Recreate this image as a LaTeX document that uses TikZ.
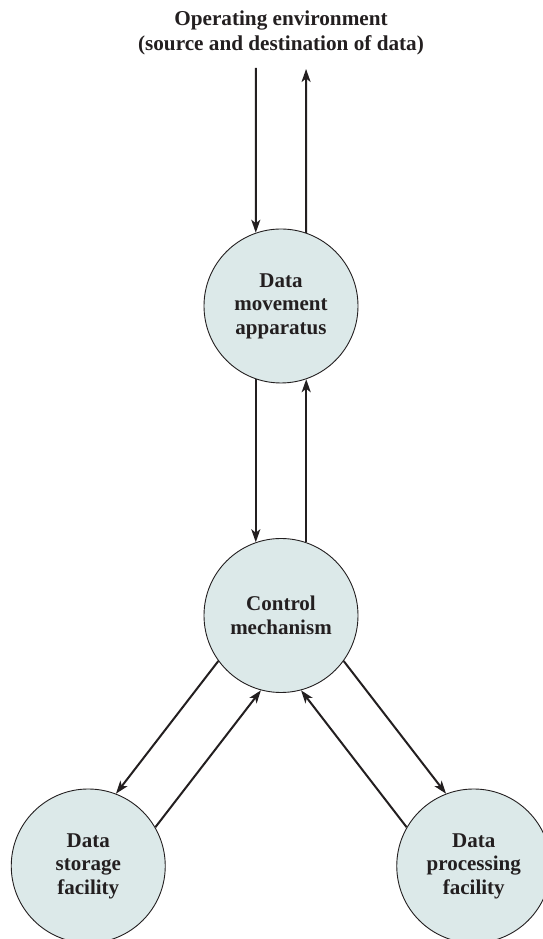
\documentclass[tikz,border=0pt]{standalone}
\usepackage{fontspec}
\setmainfont{Liberation Serif}
\usepackage{tikz}
\usetikzlibrary{arrows.meta}

\definecolor{circfill}{RGB}{220,233,233}
\definecolor{inkcol}{RGB}{35,31,32}

\begin{document}
\begin{tikzpicture}[x=1pt, y=1pt, line width=1pt,
    unit/.style={circle, draw=inkcol, fill=circfill, line width=0.9pt,
                 minimum size=154pt, inner sep=0pt, align=center,
                 text=inkcol, font=\fontsize{21}{23.5}\selectfont\bfseries},
    flow/.style={draw=inkcol, line width=2pt,
                 -{Stealth[length=13pt, width=9pt, inset=3.5pt]}}]
    \useasboundingbox (0,0) rectangle (543,939);
    \clip (0,0) rectangle (543,939);

    % title
    \node[anchor=north, inner sep=0pt, align=center, text=inkcol,
          font=\fontsize{21.2}{24.5}\selectfont\bfseries] (env) at (281,928.5)
        {Operating environment\\(source and destination of data)};

    % the four functions
    \node[unit] (move) at (281,633) {Data\\movement\\apparatus};
    \node[unit] (ctrl) at (281,323.5) {Control\\mechanism};
    \node[unit] (stor) at (88.25,73) {Data\\storage\\facility};
    \node[unit] (proc) at (473.75,73) {Data\\processing\\facility};

    % free ends towards the environment
    \coordinate (envin) at (255.93,871);
    \coordinate (envout) at (306.07,870);

    % environment <-> movement
    \draw[flow] (envin) -- (move.109);
    \draw[flow] (move.71) -- (envout);

    % movement <-> control
    \draw[flow] (move.251) -- (ctrl.109);
    \draw[flow] (ctrl.71) -- (move.289);

    % control <-> storage and processing
    \draw[flow] (ctrl.216) -- (stor.69);
    \draw[flow] (stor.30) -- (ctrl.255);
    \draw[flow] (ctrl.324) -- (proc.111);
    \draw[flow] (proc.150) -- (ctrl.285);

\end{tikzpicture}
\end{document}
